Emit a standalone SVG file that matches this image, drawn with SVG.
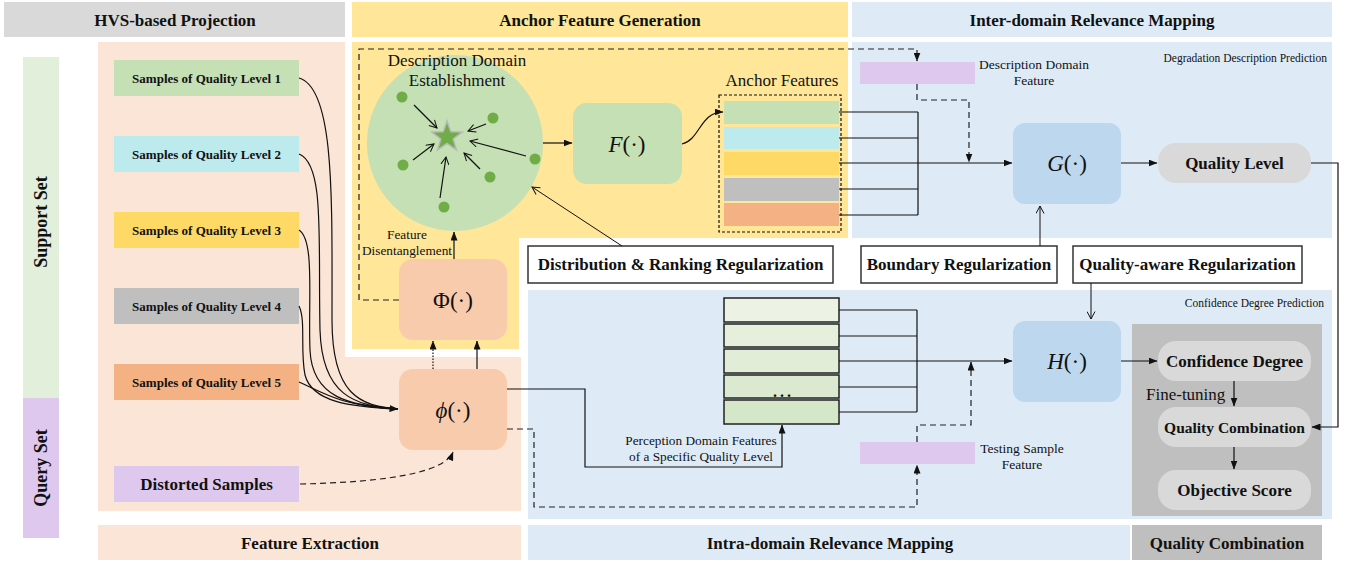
<svg xmlns="http://www.w3.org/2000/svg" width="1352" height="565" viewBox="0 0 1352 565">
<style>
text{font-family:"Liberation Serif","Times New Roman","DejaVu Serif",serif;fill:#111}
.hd{font-size:17px;font-weight:bold;text-anchor:middle;dominant-baseline:central}
.side{font-size:18px;font-weight:bold;text-anchor:middle;dominant-baseline:central}
.sm{font-size:13px;font-weight:bold;text-anchor:middle;dominant-baseline:central}
.lb{font-size:17px;text-anchor:middle}
.l13{font-size:13.3px;text-anchor:middle}
.l12{font-size:13.5px;text-anchor:middle}
.tiny{font-size:11.5px;text-anchor:end}
.fn{font-size:23px;text-anchor:middle;dominant-baseline:central}
.ln{fill:none;stroke:#111;stroke-width:1.2}
.dash{fill:none;stroke:#222;stroke-width:1.2;stroke-dasharray:6 4}
.box{fill:#fff;stroke:#333;stroke-width:1.5}
.stk{stroke:#222;stroke-width:1.5}
.dot{fill:#70ad47}
</style>
<defs>
<marker id="ah" markerWidth="9" markerHeight="7" refX="8.5" refY="3.5" orient="auto" markerUnits="userSpaceOnUse"><path d="M0,0 L9,3.5 L0,7 Z" fill="#111"/></marker>
<marker id="oh" markerWidth="9" markerHeight="9" refX="8" refY="4.5" orient="auto" markerUnits="userSpaceOnUse"><path d="M0.5,0.5 L8,4.5 L0.5,8.5" fill="none" stroke="#111" stroke-width="1"/></marker>
</defs>

<g id="regions">
<rect x="4" y="2" width="341" height="35" fill="#d9d9d9"/>
<rect x="352" y="2" width="496" height="35" fill="#ffe699"/>
<rect x="852" y="2" width="480" height="35" fill="#deebf7"/>
<text class="hd" x="175" y="20">HVS-based Projection</text>
<text class="hd" x="600" y="20">Anchor Feature Generation</text>
<text class="hd" x="1092" y="20">Inter-domain Relevance Mapping</text>
<rect x="23" y="57" width="36" height="341" fill="#e2efda"/>
<rect x="23" y="398" width="36" height="140" fill="#dfc8ee"/>
<text class="side" transform="translate(41,222) rotate(-90)">Support Set</text>
<text class="side" transform="translate(41,468) rotate(-90)">Query Set</text>
<path d="M98,42H345V357H521V511H98Z" fill="#fbe5d6"/>
<path d="M352,42H848V238H519V349H352Z" fill="#ffe699"/>
<rect x="852" y="42" width="480" height="196" fill="#deebf7"/>
<rect x="528" y="290" width="804" height="229" fill="#deebf7"/>
<rect x="1132" y="324" width="190" height="192" fill="#bfbfbf"/>
<rect x="98" y="525" width="423" height="35" fill="#fbe5d6"/>
<rect x="528" y="525" width="602" height="35" fill="#deebf7"/>
<rect x="1132" y="525" width="190" height="35" fill="#bfbfbf"/>
<text class="hd" x="310" y="543">Feature Extraction</text>
<text class="hd" x="830" y="543">Intra-domain Relevance Mapping</text>
<text class="hd" x="1227" y="543">Quality Combination</text>
<text class="tiny" x="1327" y="62">Degradation Description Prediction</text>
<text class="tiny" x="1324" y="307">Confidence Degree  Prediction</text>
</g>

<g id="samples">
<g id="level1"><rect x="114" y="60" width="185" height="36" fill="#c5e0b4"/><text class="sm" x="206.5" y="78">Samples of Quality Level 1</text></g>
<g id="level2"><rect x="114" y="136" width="185" height="36" fill="#bdeaed"/><text class="sm" x="206.5" y="154">Samples of Quality Level 2</text></g>
<g id="level3"><rect x="114" y="212" width="185" height="36" fill="#ffd966"/><text class="sm" x="206.5" y="230">Samples of Quality Level 3</text></g>
<g id="level4"><rect x="114" y="288" width="185" height="36" fill="#bfbfbf"/><text class="sm" x="206.5" y="306">Samples of Quality Level 4</text></g>
<g id="level5"><rect x="114" y="364" width="185" height="36" fill="#f4b183"/><text class="sm" x="206.5" y="382">Samples of Quality Level 5</text></g>
<g id="distorted"><rect x="114" y="466" width="185" height="36" fill="#dfc8ee"/><text class="hd" x="206.5" y="484">Distorted Samples</text></g>
</g>

<g id="phi"><rect x="399" y="369" width="108" height="81" rx="14" fill="#f8cbad"/><text class="fn" x="453" y="410"><tspan font-style="italic">ϕ</tspan>(·)</text></g>
<g id="Phi"><rect x="399" y="259" width="108" height="81" rx="14" fill="#f8cbad"/><text class="fn" x="453" y="300">Φ(·)</text></g>
<g id="feat-dis"><text class="l13" x="407" y="239">Feature</text><text class="l13" x="407" y="255">Disentanglement</text></g>

<g id="desc-domain">
<circle cx="455" cy="143" r="88" fill="#c5e0b4"/>
<text class="lb" x="457" y="66">Description Domain</text>
<text class="lb" x="457" y="86">Establishment</text>
<polygon points="447,121 450.8,131.7 462.2,132.1 453.2,139 456.4,149.9 447,143.5 437.6,149.9 440.8,139 431.8,132.1 443.2,131.7" fill="#70ad47" stroke="#b8b8b8" stroke-width="1.5"/>
<circle class="dot" cx="402" cy="97" r="5.5"/>
<circle class="dot" cx="493" cy="118" r="5.5"/>
<circle class="dot" cx="403" cy="165" r="5.5"/>
<circle class="dot" cx="535" cy="159" r="5.5"/>
<circle class="dot" cx="490" cy="177" r="5.5"/>
<circle class="dot" cx="444" cy="207" r="5.5"/>
<g class="ln" stroke-width="1" marker-end="url(#oh)">
<path d="M414,105 L437,128"/>
<path d="M486,124 L468,131"/>
<path d="M413,160 L434,144"/>
<path d="M526,156 L470,141"/>
<path d="M480,169 L464,153"/>
<path d="M440,198 L446,157"/>
</g>
</g>

<g id="F"><rect x="573" y="103" width="109" height="81" rx="14" fill="#c5e0b4"/><text class="fn" x="627" y="144"><tspan font-style="italic">F</tspan>(·)</text></g>

<g id="anchor-features">
<text class="lb" x="782" y="86">Anchor Features</text>
<rect x="724" y="101" width="115" height="23" fill="#c5e0b4"/>
<rect x="724" y="127" width="115" height="22" fill="#bdeaed"/>
<rect x="724" y="152" width="115" height="23" fill="#ffd966"/>
<rect x="724" y="178" width="115" height="23" fill="#bfbfbf"/>
<rect x="724" y="203" width="115" height="23" fill="#f4b183"/>
<rect x="719" y="95" width="122" height="137" fill="none" stroke="#111" stroke-width="1.2" stroke-dasharray="3 2"/>
</g>

<g id="desc-feature"><rect x="860" y="62" width="115" height="22" fill="#dfc8ee"/><text class="l12" x="1034" y="69">Description Domain</text><text class="l12" x="1034" y="85">Feature</text></g>
<g id="G"><rect x="1013" y="123" width="108" height="81" rx="12" fill="#bdd7ee"/><text class="fn" x="1067" y="163"><tspan font-style="italic">G</tspan>(·)</text></g>
<g id="quality-level"><rect x="1158" y="143" width="153" height="40" rx="18" fill="#d9d9d9"/><text class="hd" x="1234.5" y="163">Quality Level</text></g>

<g id="reg-dist"><rect class="box" x="528" y="246" width="305" height="37"/><text class="hd" x="680.5" y="264.5">Distribution &amp; Ranking Regularization</text></g>
<g id="reg-boundary"><rect class="box" x="861" y="246" width="196" height="37"/><text class="hd" x="959" y="264.5">Boundary Regularization</text></g>
<g id="reg-quality"><rect class="box" x="1073" y="246" width="229" height="37"/><text class="hd" x="1187.5" y="264.5">Quality-aware Regularization</text></g>

<g id="perception-features">
<rect class="stk" x="724" y="298" width="115" height="24" fill="#ecf3e4"/>
<rect class="stk" x="724" y="324" width="115" height="23" fill="#e6efdc"/>
<rect class="stk" x="724" y="349" width="115" height="24" fill="#e1edd7"/>
<rect class="stk" x="724" y="375" width="115" height="23" fill="#dce9d1"/>
<rect class="stk" x="724" y="400" width="115" height="24" fill="#d5e7c9"/>
<text x="773" y="397" font-size="16" font-weight="bold" letter-spacing="3">...</text>
<text class="l13" x="701" y="445">Perception Domain Features</text>
<text class="l13" x="701" y="461">of a Specific Quality Level</text>
</g>
<g id="test-feature"><rect x="860" y="442" width="115" height="22" fill="#dfc8ee"/><text class="l12" x="1022" y="453">Testing Sample</text><text class="l12" x="1022" y="469">Feature</text></g>
<g id="H"><rect x="1013" y="321" width="108" height="81" rx="12" fill="#bdd7ee"/><text class="fn" x="1067" y="361"><tspan font-style="italic">H</tspan>(·)</text></g>
<g id="confidence"><rect x="1158" y="341" width="153" height="40" rx="18" fill="#d9d9d9"/><text class="hd" x="1234.5" y="361">Confidence Degree</text></g>
<g id="quality-comb"><rect x="1158" y="407" width="153" height="40" rx="18" fill="#d9d9d9"/><text class="hd" x="1234.5" y="427" style="font-size:15.5px">Quality Combination</text></g>
<g id="objective"><rect x="1158" y="470" width="153" height="40" rx="18" fill="#d9d9d9"/><text class="hd" x="1234.5" y="490">Objective Score</text></g>
<text x="1146" y="400" font-size="17">Fine-tuning</text>

<g id="connectors">
<g class="ln">
<path d="M299,78 C335,88 332,200 332,320 C332,395 360,406 398,409"/>
<path d="M299,154 C325,164 318,240 320,330 C322,396 355,406 398,409"/>
<path d="M299,230 C315,240 308,300 310,350 C312,398 350,406 398,409"/>
<path d="M299,306 C306,320 300,350 305,375 C312,402 350,407 398,409"/>
<path d="M299,382 C322,392 340,406 398,409" marker-end="url(#ah)"/>
<path d="M454,259 V232" marker-end="url(#ah)"/>
<path d="M477,369 V341" marker-end="url(#ah)"/>
<path d="M433,369 V341" stroke-dasharray="1.5 1.5" marker-end="url(#ah)"/>
<path d="M543,143 H572" marker-end="url(#ah)"/>
<path d="M682,144 C700,140 700,112 723,112" marker-end="url(#ah)"/>
<path d="M839,112 H918 M839,138 H918 M839,189 H918 M839,215 H918 M918,112 V215"/>
<path d="M839,163 H1012" marker-end="url(#ah)"/>
<path d="M1121,163 H1157" marker-end="url(#ah)"/>
<path d="M1311,163 H1338 V427 H1312" marker-end="url(#ah)"/>
<path d="M622,246 L532,187" stroke-width="1" marker-end="url(#oh)"/>
<path d="M1040,246 V206" stroke-width="1" marker-end="url(#oh)"/>
<path d="M1091,283 V319" stroke-width="1" marker-end="url(#oh)"/>
<path d="M507,389 H585 V467 H782 V425" marker-end="url(#ah)"/>
<path d="M839,310 H917 M839,336 H917 M839,387 H917 M839,412 H917 M917,310 V412"/>
<path d="M839,361 H1012" marker-end="url(#ah)"/>
<path d="M1121,361 H1157" marker-end="url(#ah)"/>
<path d="M1234,381 V406" marker-end="url(#ah)"/>
<path d="M1234,447 V469" marker-end="url(#ah)"/>
</g>
<g class="dash">
<path d="M399,300 H359 V49 H917 V61" marker-end="url(#ah)"/>
<path d="M917,84 V100 H969 V162" marker-end="url(#ah)"/>
<path d="M300,484 C390,482 445,472 453,452" marker-end="url(#ah)"/>
<path d="M507,429 H534 V507 H917 V465" marker-end="url(#ah)"/>
<path d="M917,442 V425 H971 V362" marker-end="url(#ah)"/>
</g>
</g>
</svg>
